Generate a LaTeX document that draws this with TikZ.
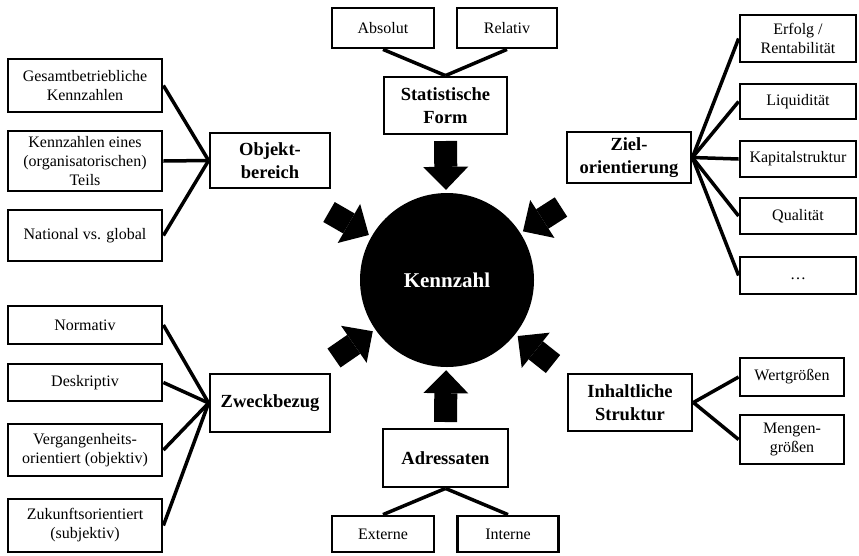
\documentclass[tikz,border=0pt]{standalone}
\usepackage{fontspec}
\setmainfont{Liberation Serif}
\usepackage{tikz}
\usetikzlibrary{arrows.meta}

\begin{document}
\begin{tikzpicture}[x=1pt, y=-1pt,
    leaf/.style={draw, line width=2.8pt, inner sep=0pt, align=center,
        font=\fontsize{16}{19}\selectfont},
    hub/.style={draw, line width=2.8pt, inner sep=0pt, align=center,
        font=\fontsize{18.5}{23}\selectfont\bfseries},
    link/.style={line width=3.5pt},
    bigarrow/.style={line width=23pt, shorten >=3pt,
        -{Triangle[length=23pt, width=45pt, line width=0pt]}}]
        \useasboundingbox (0,0) rectangle (859,555);

        % Mitte
        \node[circle, fill=black, minimum size=174pt, inner sep=0pt,
            font=\fontsize{21}{25}\selectfont\bfseries, text=white] (kz) at (447,280) {Kennzahl};

        % Statistische Form
        \node[hub, minimum width=123pt, minimum height=57pt] (stat) at (445.5,105.5) {Statistische\\Form};
        \node[leaf, minimum width=102pt, minimum height=40pt] (abs) at (383,28) {Absolut};
        \node[leaf, minimum width=100pt, minimum height=40pt] (rel) at (507,28) {Relativ};
        \draw[link] (abs.south) -- (stat.north);
        \draw[link] (rel.south) -- (stat.north);

        % Objektbereich
        \node[hub, minimum width=120pt, minimum height=55pt] (obj) at (270,160.5) {Objekt-\\bereich};
        \node[leaf, minimum width=154pt, minimum height=53pt] (gesamt) at (85,85.5) {Gesamtbetriebliche\\Kennzahlen};
        \node[leaf, minimum width=154pt, minimum height=60pt] (teil) at (85,161) {Kennzahlen eines\\(organisatorischen)\\Teils};
        \node[leaf, minimum width=154pt, minimum height=51pt] (nat) at (85,235.5) {National vs. global};
        \foreach \n in {gesamt, teil, nat}
            \draw[link] (\n.east) -- (obj.west);

        % Zweckbezug
        \node[hub, minimum width=120pt, minimum height=58pt] (zweck) at (270,403) {Zweckbezug};
        \node[leaf, minimum width=154pt, minimum height=38pt] (norm) at (85,325) {Normativ};
        \node[leaf, minimum width=154pt, minimum height=37pt] (desk) at (85,382.5) {Deskriptiv};
        \node[leaf, minimum width=154pt, minimum height=52pt] (verg) at (85,450) {Vergangenheits-\\orientiert (objektiv)};
        \node[leaf, minimum width=154pt, minimum height=53pt] (zuk) at (85,525.5) {Zukunftsorientiert\\(subjektiv)};
        \foreach \n in {norm, desk, verg, zuk}
            \draw[link] (\n.east) -- (zweck.west);

        % Zielorientierung
        \node[hub, minimum width=124pt, minimum height=51pt] (ziel) at (629,157.5) {Ziel-\\orientierung};
        \node[leaf, minimum width=116pt, minimum height=47pt] (erf) at (798,38.5) {Erfolg /\\Rentabilität};
        \node[leaf, minimum width=116pt, minimum height=35pt] (liq) at (798,101.5) {Liquidität};
        \node[leaf, minimum width=116pt, minimum height=36pt] (kap) at (798,159) {Kapitalstruktur};
        \node[leaf, minimum width=116pt, minimum height=36pt] (qual) at (798,216) {Qualität};
        \node[leaf, minimum width=116pt, minimum height=37pt] (more) at (798,275.5) {\strut\dots};
        \foreach \n in {erf, liq, kap, qual, more}
            \draw[link] (ziel.east) -- (\n.west);

        % Inhaltliche Struktur
        \node[hub, minimum width=124pt, minimum height=57pt] (inh) at (630,402.5) {Inhaltliche\\Struktur};
        \node[leaf, minimum width=104pt, minimum height=38pt] (wert) at (792,377) {Wertgrößen};
        \node[leaf, minimum width=104pt, minimum height=49pt] (menge) at (792,439.5) {Mengen-\\größen};
        \draw[link] (inh.east) -- (wert.west);
        \draw[link] (inh.east) -- (menge.west);

        % Adressaten
        \node[hub, minimum width=125pt, minimum height=58pt] (adr) at (445.5,458) {Adressaten};
        \node[leaf, minimum width=102pt, minimum height=36pt] (ext) at (383,534) {Externe};
        \node[leaf, minimum width=101pt, minimum height=36pt] (int) at (508,534) {Interne};
        \draw[link] (adr.south) -- (ext.north);
        \draw[link] (adr.south) -- (int.north);

        % Pfeile zur Kennzahl
        \coordinate (tTop) at (445.5,141);
        \coordinate (tBot) at (445.5,422);
        \coordinate (tUL) at (329,212);
        \coordinate (tUR) at (561,207);
        \coordinate (tLL) at (334,358);
        \coordinate (tLR) at (553,364);
        \foreach \t in {tTop, tBot, tUL, tUR, tLL, tLR}
            \draw[bigarrow] (\t) -- (kz);
    \end{tikzpicture}
\end{document}
